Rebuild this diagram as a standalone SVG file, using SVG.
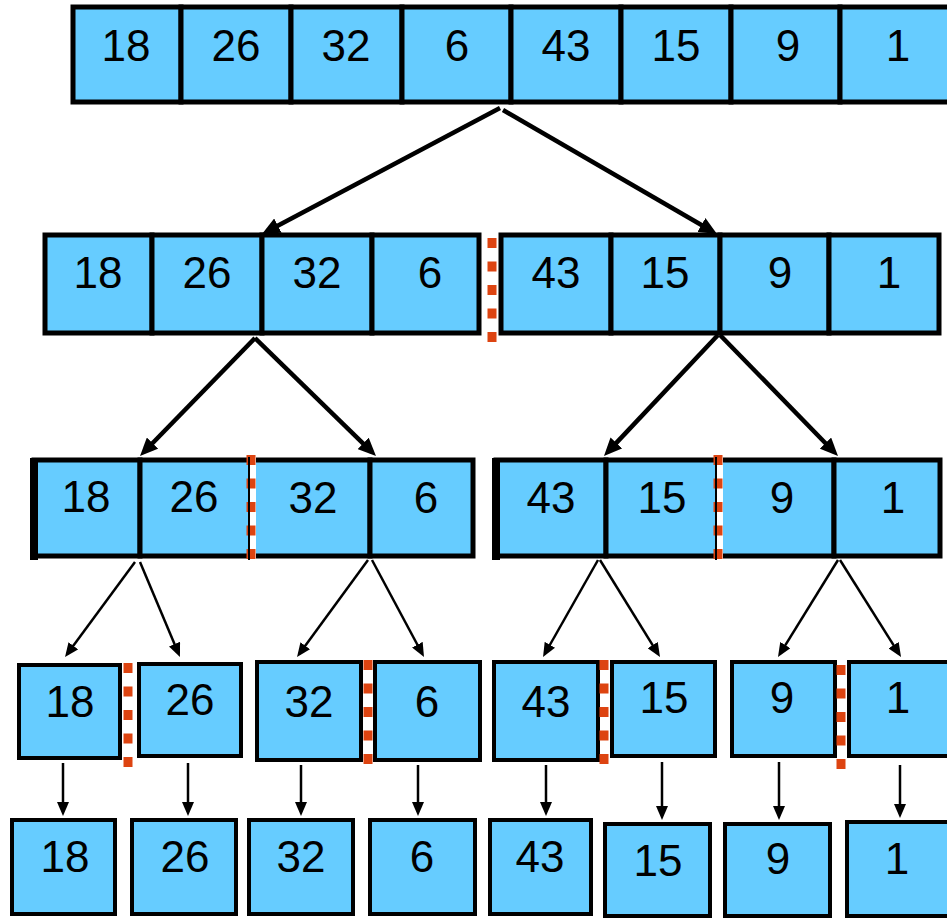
<svg xmlns="http://www.w3.org/2000/svg" width="947" height="919" viewBox="0 0 947 919">
<defs>
<style>
.c{fill:#66CCFF;stroke:#000;stroke-width:5}
.s{fill:#66CCFF;stroke:#000;stroke-width:4}
.t{font-family:"Liberation Sans",Arial,sans-serif;font-size:44px;fill:#000;text-anchor:middle}
.sepw{stroke:#fff;stroke-width:8}
.sepo{stroke:#DD4411;stroke-width:9;stroke-dasharray:10 13.5}
.ak{stroke:#000;stroke-width:4.5;fill:none;marker-end:url(#hb)}
.an{stroke:#000;stroke-width:2.5;fill:none;marker-end:url(#hs)}
</style>
<marker id="hb" markerUnits="userSpaceOnUse" viewBox="0 0 18 16" refX="12" refY="8" markerWidth="18" markerHeight="16" orient="auto"><path d="M0,0 L18,8 L0,16 Z" fill="#000"/></marker>
<marker id="hs" markerUnits="userSpaceOnUse" viewBox="0 0 14 12" refX="10" refY="6" markerWidth="14" markerHeight="12" orient="auto"><path d="M0,0 L14,6 L0,12 Z" fill="#000"/></marker>
</defs>
<rect width="947" height="919" fill="#fff"/>

<g id="row1">
<rect class="c" x="73" y="7" width="108" height="95"/>
<rect class="c" x="181" y="7" width="110" height="95"/>
<rect class="c" x="291" y="7" width="111" height="95"/>
<rect class="c" x="402" y="7" width="109" height="95"/>
<rect class="c" x="511" y="7" width="110" height="95"/>
<rect class="c" x="621" y="7" width="110" height="95"/>
<rect class="c" x="731" y="7" width="109" height="95"/>
<rect class="c" x="840" y="7" width="112" height="95"/>
<text class="t" x="126" y="61">18</text>
<text class="t" x="236" y="61">26</text>
<text class="t" x="346" y="61">32</text>
<text class="t" x="457" y="61">6</text>
<text class="t" x="566" y="61">43</text>
<text class="t" x="676" y="61">15</text>
<text class="t" x="788" y="61">9</text>
<text class="t" x="898" y="61">1</text>
</g>

<g id="row2-left">
<rect class="c" x="45" y="235" width="107" height="98"/>
<rect class="c" x="152" y="235" width="110" height="98"/>
<rect class="c" x="262" y="235" width="110" height="98"/>
<rect class="c" x="372" y="235" width="107" height="98"/>
<text class="t" x="98" y="288">18</text>
<text class="t" x="207" y="288">26</text>
<text class="t" x="317" y="288">32</text>
<text class="t" x="430" y="288">6</text>
</g>
<g id="row2-right">
<rect class="c" x="501" y="235" width="110" height="98"/>
<rect class="c" x="611" y="235" width="109" height="98"/>
<rect class="c" x="720" y="235" width="109" height="98"/>
<rect class="c" x="829" y="235" width="110" height="98"/>
<text class="t" x="556" y="288">43</text>
<text class="t" x="665" y="288">15</text>
<text class="t" x="780" y="288">9</text>
<text class="t" x="889" y="288">1</text>
</g>

<g id="row3-a">
<rect class="c" x="34" y="460" width="106" height="96"/>
<line x1="34" y1="458" x2="34" y2="560" stroke="#000" stroke-width="8"/>
<rect class="c" x="140" y="460" width="111" height="96"/>
<text class="t" x="86" y="512">18</text>
<text class="t" x="194" y="512">26</text>
</g>
<g id="row3-b">
<rect class="c" x="251" y="460" width="119" height="96"/>
<rect class="c" x="370" y="460" width="103" height="96"/>
<text class="t" x="313" y="513">32</text>
<text class="t" x="426" y="513">6</text>
</g>
<g id="row3-c">
<rect class="c" x="496" y="460" width="110" height="96"/>
<line x1="496" y1="458" x2="496" y2="560" stroke="#000" stroke-width="8"/>
<rect class="c" x="606" y="460" width="112" height="96"/>
<text class="t" x="551" y="513">43</text>
<text class="t" x="662" y="513">15</text>
</g>
<g id="row3-d">
<rect class="c" x="718" y="460" width="116" height="96"/>
<rect class="c" x="834" y="460" width="106" height="96"/>
<text class="t" x="782" y="513">9</text>
<text class="t" x="893" y="513">1</text>
</g>

<g id="row4-18"><rect class="s" x="19" y="665" width="101" height="93"/><text class="t" x="70" y="717">18</text></g>
<g id="row4-26"><rect class="s" x="139" y="664" width="102" height="92"/><text class="t" x="190" y="715">26</text></g>
<g id="row4-32"><rect class="s" x="257" y="662" width="104" height="98"/><text class="t" x="309" y="717">32</text></g>
<g id="row4-6"><rect class="s" x="375" y="662" width="105" height="98"/><text class="t" x="427" y="717">6</text></g>
<g id="row4-43"><rect class="s" x="494" y="662" width="104" height="98"/><text class="t" x="546" y="717">43</text></g>
<g id="row4-15"><rect class="s" x="612" y="662" width="103" height="94"/><text class="t" x="664" y="713">15</text></g>
<g id="row4-9"><rect class="s" x="732" y="662" width="103" height="94"/><text class="t" x="782" y="713">9</text></g>
<g id="row4-1"><rect class="s" x="849" y="662" width="110" height="94"/><text class="t" x="898" y="713">1</text></g>

<g id="row5-18"><rect class="s" x="12" y="820" width="103" height="94"/><text class="t" x="65" y="872">18</text></g>
<g id="row5-26"><rect class="s" x="132" y="820" width="104" height="94"/><text class="t" x="185" y="872">26</text></g>
<g id="row5-32"><rect class="s" x="249" y="820" width="104" height="94"/><text class="t" x="301" y="872">32</text></g>
<g id="row5-6"><rect class="s" x="370" y="820" width="105" height="94"/><text class="t" x="422" y="872">6</text></g>
<g id="row5-43"><rect class="s" x="490" y="820" width="101" height="94"/><text class="t" x="540" y="872">43</text></g>
<g id="row5-15"><rect class="s" x="605" y="824" width="105" height="92"/><text class="t" x="658" y="876">15</text></g>
<g id="row5-9"><rect class="s" x="725" y="824" width="105" height="92"/><text class="t" x="778" y="874">9</text></g>
<g id="row5-1"><rect class="s" x="847" y="822" width="110" height="94"/><text class="t" x="897" y="874">1</text></g>

<g id="separators">
<line class="sepo" x1="492" y1="238" x2="492" y2="343"/>
<line class="sepw" x1="252" y1="457" x2="252" y2="562"/>
<line class="sepo" x1="251" y1="455" x2="251" y2="563"/>
<line x1="249" y1="457" x2="249" y2="560" stroke="#000" stroke-width="2"/>
<line class="sepw" x1="719" y1="457" x2="719" y2="562"/>
<line class="sepo" x1="718" y1="455" x2="718" y2="563"/>
<line x1="716" y1="457" x2="716" y2="560" stroke="#000" stroke-width="2"/>
<line class="sepw" x1="128" y1="663" x2="128" y2="768"/>
<line class="sepo" x1="128" y1="663" x2="128" y2="768"/>
<line class="sepw" x1="368" y1="660" x2="368" y2="765"/>
<line class="sepo" x1="368" y1="660" x2="368" y2="765"/>
<line class="sepw" x1="604" y1="660" x2="604" y2="765"/>
<line class="sepo" x1="604" y1="660" x2="604" y2="765"/>
<line class="sepw" x1="841" y1="665" x2="841" y2="770"/>
<line class="sepo" x1="841" y1="665" x2="841" y2="770"/>
</g>

<g id="connectors">
<line class="ak" x1="500" y1="108" x2="267.3" y2="231.2"/>
<line class="ak" x1="503" y1="110" x2="711.8" y2="231"/>
<line class="ak" x1="255" y1="338" x2="144.2" y2="451.7"/>
<line class="ak" x1="255" y1="338" x2="371.7" y2="451.8"/>
<line class="ak" x1="718" y1="335" x2="608.1" y2="451.6"/>
<line class="ak" x1="720" y1="335" x2="833.8" y2="451.7"/>
<line class="an" x1="135" y1="562" x2="67.4" y2="653.8"/>
<line class="an" x1="140" y1="562" x2="178.4" y2="653.3"/>
<line class="an" x1="368" y1="560" x2="299.4" y2="653.8"/>
<line class="an" x1="372" y1="560" x2="422.1" y2="653.5"/>
<line class="an" x1="598" y1="560" x2="545" y2="653.5"/>
<line class="an" x1="600" y1="560" x2="657.9" y2="653.6"/>
<line class="an" x1="838" y1="560" x2="780.1" y2="653.6"/>
<line class="an" x1="840" y1="560" x2="898.9" y2="653.6"/>
<line class="an" x1="63" y1="763" x2="63" y2="812"/>
<line class="an" x1="188" y1="763" x2="188" y2="812"/>
<line class="an" x1="301" y1="765" x2="301" y2="812"/>
<line class="an" x1="418" y1="765" x2="418" y2="812"/>
<line class="an" x1="546" y1="765" x2="546" y2="812"/>
<line class="an" x1="662" y1="762" x2="662" y2="816"/>
<line class="an" x1="779" y1="762" x2="779" y2="816"/>
<line class="an" x1="900" y1="765" x2="900" y2="814"/>
</g>
</svg>
